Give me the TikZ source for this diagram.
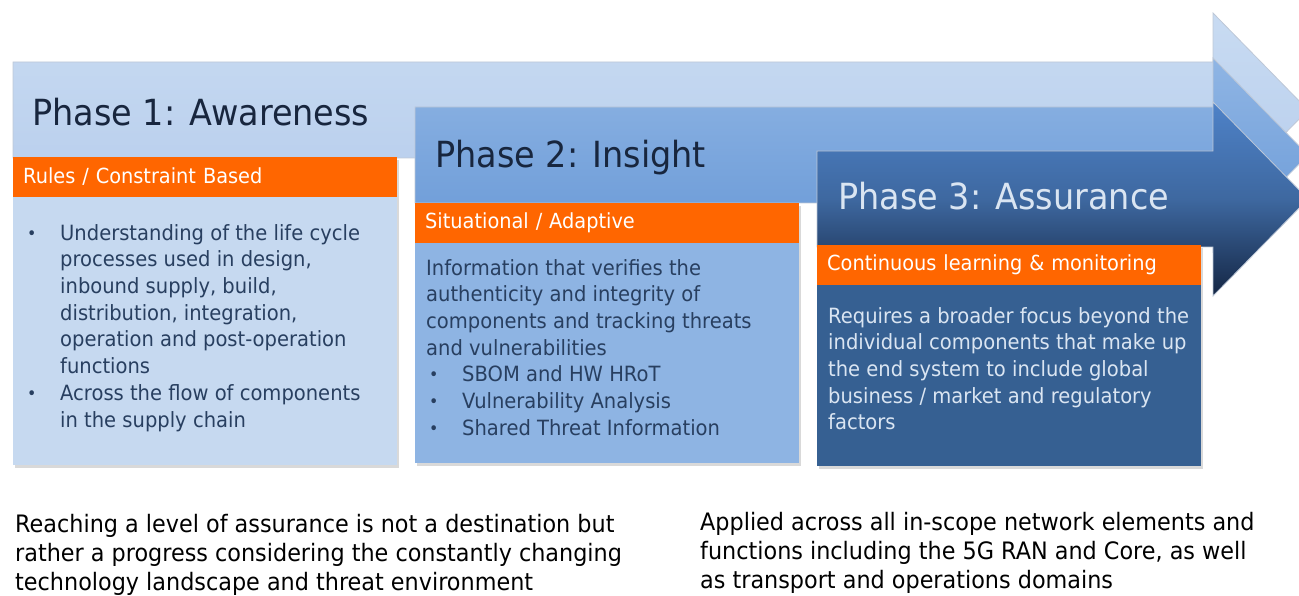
\documentclass[tikz,border=0pt]{standalone}
\usepackage{fontspec}
\setmainfont{DejaVu Sans}[FakeStretch=0.93]
\usepackage{xcolor}
\usepackage{tikz}
\usetikzlibrary{shadows}

\definecolor{arrAtop}{RGB}{200,219,242}
\definecolor{arrAbot}{RGB}{183,205,236}
\definecolor{arrBtop}{RGB}{143,181,228}
\definecolor{arrBbot}{RGB}{104,152,214}
\definecolor{arrCtop}{RGB}{78,130,200}
\definecolor{arrCmid}{RGB}{62,104,160}
\definecolor{arrCbot}{RGB}{20,38,68}
\definecolor{paleblue}{RGB}{198,217,240}
\definecolor{midblue}{RGB}{142,180,227}
\definecolor{deepblue}{RGB}{54,96,146}
\definecolor{tabOrange}{RGB}{255,102,0}
\definecolor{ink}{RGB}{24,38,62}
\definecolor{bodyink}{RGB}{40,63,96}
\definecolor{lightink}{RGB}{218,229,242}

\newcommand{\bul}{\makebox[36pt][l]{\hspace{3pt}\raisebox{1pt}{\fontsize{17}{17}\selectfont\textbullet}}}
\newcommand{\ind}{\makebox[36pt]{}}

\begin{document}
\begin{tikzpicture}[x=1pt,y=-1pt,
    arrowline/.style={draw=arrAbot!80!black!60, line width=0.8pt},
    card/.style={anchor=north west, minimum width=384pt, inner sep=0pt,
      drop shadow={shadow xshift=2pt, shadow yshift=-3pt, opacity=0.3}},
    bar/.style={anchor=north west, fill=tabOrange, text=white, minimum width=384pt,
      minimum height=39.5pt, inner xsep=10pt, text width=364pt, align=left,
      font=\fontsize{20.8}{24}\selectfont},
    title/.style={anchor=base west, inner sep=0pt, font=\fontsize{36}{40}\selectfont},
    body/.style={anchor=north west, inner sep=0pt, align=left,
      font=\fontsize{21}{26.7}\selectfont},
    note/.style={anchor=north west, inner sep=0pt, align=left,
      font=\fontsize{24}{29}\selectfont}]
\useasboundingbox (0,0) rectangle (1299,596);

% the three phase arrows
\foreach \xa/\ya/\ct/\cm/\cb in {13/110/arrAtop/arrAtop!50!arrAbot/arrAbot,
    415/155/arrBtop/arrBtop!50!arrBbot/arrBbot, 817/199/arrCtop/arrCmid/arrCbot}
  \draw[arrowline, top color=\ct, bottom color=\cb, middle color=\cm]
    (\xa,\ya-48) -- (1213,\ya-48) -- (1213,\ya-97) -- (1308,\ya)
    -- (1213,\ya+97) -- (1213,\ya+48) -- (\xa,\ya+48) -- cycle;

\node[title, text=ink] (ttl1) at (32,126) {Phase 1: Awareness};
\node[title, text=ink] (ttl2) at (435,168) {Phase 2: Insight};
\node[title, text=lightink] (ttl3) at (838,210) {Phase 3: Assurance};

% phase 1
\node[card, fill=paleblue, minimum height=308pt] (card1) at (13,157) {};
\node[bar] (bar1) at (13,157) {Rules / Constraint Based};
\node[body, text=bodyink] (body1) at (24,224)
  {\bul Understanding of the life cycle\\
   \ind processes used in design,\\
   \ind inbound supply, build,\\
   \ind distribution, integration,\\
   \ind operation and post-operation\\
   \ind functions\\
   \bul Across the flow of components\\
   \ind in the supply chain};

% phase 2
\node[card, fill=midblue, minimum height=260pt] (card2) at (415,203) {};
\node[bar] (bar2) at (415,203) {Situational / Adaptive};
\node[body, text=bodyink] (body2) at (426,259)
  {Information that verifies the\\
   authenticity and integrity of\\
   components and tracking threats\\
   and vulnerabilities\\
   \bul SBOM and HW HRoT\\
   \bul Vulnerability Analysis\\
   \bul Shared Threat Information};

% phase 3
\node[card, fill=deepblue, minimum height=221pt] (card3) at (817,245) {};
\node[bar] (bar3) at (817,245) {Continuous learning \& monitoring};
\node[body, text=lightink] (body3) at (828,307)
  {Requires a broader focus beyond the\\
   individual components that make up\\
   the end system to include global\\
   business / market and regulatory\\
   factors};

% notes underneath
\node[note] (noteL) at (15,514)
  {Reaching a level of assurance is not a destination but\\
   rather a progress considering the constantly changing\\
   technology landscape and threat environment};
\node[note] (noteR) at (700,512)
  {Applied across all in-scope network elements and\\
   functions including the 5G RAN and Core, as well\\
   as transport and operations domains};
\end{tikzpicture}
\end{document}
